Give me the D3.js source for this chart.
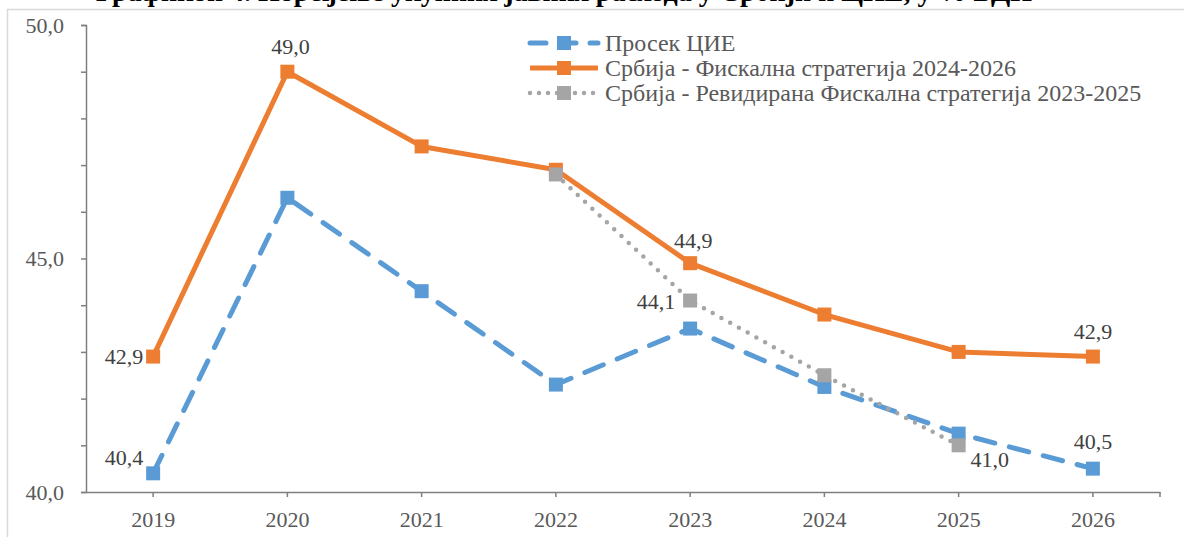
<!DOCTYPE html>
<html>
<head>
<meta charset="utf-8">
<script src="https://cdn.jsdelivr.net/npm/d3@7"></script>
<style>
  body { margin: 0; background: #fff; }
  svg { display: block; font-family: "Liberation Serif", "Times New Roman", serif; }
</style>
</head>
<body>
<svg id="chart" width="1184" height="537"></svg>
<script>
// Chart data
const years      = ['2019', '2020', '2021', '2022', '2023', '2024', '2025', '2026'];
const ceeAverage = [40.4, 46.3, 44.3, 42.3, 43.5, 42.25, 41.25, 40.5];
const fiscal2426 = [42.9, 49.0, 47.4, 46.9, 44.9, 43.8, 43.0, 42.9];
const revYears   = ['2022', '2023', '2024', '2025'];
const revised2325 = [46.8, 44.1, 42.5, 41.0];
const yTicks     = [40, 41, 42, 43, 44, 45, 46, 47, 48, 49, 50];

const titleText = 'Графикон 4. Поређење укупних јавних расхода у Србији и ЦИЕ, у % БДП';

// Series definitions (label, colour, line style)
const series = [
    {name: 'Просек ЦИЕ', x: years, v: ceeAverage, color: '#5b9bd5',
     width: 5, dash: '20 15', cap: 'round'},
    {name: 'Србија - Фискална стратегија 2024-2026', x: years, v: fiscal2426, color: '#ed7d31',
     width: 5, dash: null, cap: 'butt'},
    {name: 'Србија - Ревидирана Фискална стратегија 2023-2025', x: revYears, v: revised2325, color: '#a5a5a5',
     width: 4.5, dash: '0 10', cap: 'round'}
];

// Data labels: series index, year, offset from point and anchor
const dataLabels = [
    {s: 1, year: '2019', dx: -10, dy: 7,  anchor: 'end'},
    {s: 1, year: '2020', dx: 3,   dy: -18, anchor: 'middle'},
    {s: 1, year: '2023', dx: 3,   dy: -15, anchor: 'middle'},
    {s: 1, year: '2026', dx: 0,   dy: -18, anchor: 'middle'},
    {s: 0, year: '2019', dx: -10, dy: -8, anchor: 'end'},
    {s: 0, year: '2026', dx: 0,   dy: -20, anchor: 'middle'},
    {s: 2, year: '2023', dx: -15, dy: 8,  anchor: 'end'},
    {s: 2, year: '2025', dx: 31,  dy: 22, anchor: 'middle'}
];

const svg = d3.select('#chart');
const plot = {left: 86, right: 1160, top: 25, bottom: 492};

const fmt = d => d.toFixed(1).replace('.', ',');

// Scales
const xScale = d3.scaleBand().domain(years).range([plot.left, plot.right]);
const xc = d => xScale(d) + xScale.bandwidth() / 2;
const yScale = d3.scaleLinear().domain([40, 50]).range([plot.bottom, plot.top]);

// Outer frame
svg.append('rect')
   .attr('x', 7.5).attr('y', 9.5).attr('width', 1200).attr('height', 600)
   .attr('fill', 'none').attr('stroke', '#d9d9d9').attr('stroke-width', 1.5);

// Title (cut off by the top edge in the reference)
svg.append('text')
   .attr('x', 96).attr('y', 1)
   .attr('font-size', 28).attr('font-weight', 'bold').attr('fill', '#000')
   .text(titleText);

// Y axis
const yAxis = d3.axisLeft(yScale)
    .tickValues(yTicks)
    .tickSize(5).tickPadding(17)
    .tickFormat(d => d % 5 === 0 ? fmt(d) : '');
const gy = svg.append('g').attr('transform', `translate(${plot.left},0)`).call(yAxis);

// X axis
const xAxis = d3.axisBottom(xScale).tickSize(5).tickPadding(14).tickSizeOuter(0);
const gx = svg.append('g').attr('transform', `translate(0,${plot.bottom})`).call(xAxis);
gx.append('line')
  .attr('x1', plot.right).attr('x2', plot.right).attr('y1', 0).attr('y2', 5);

[gy, gx].forEach(g => {
    g.select('.domain').attr('stroke', '#7f7f7f').attr('stroke-width', 1.5);
    g.selectAll('line').attr('stroke', '#7f7f7f').attr('stroke-width', 1.5);
    g.selectAll('text').attr('font-family', 'Liberation Serif, serif')
                       .attr('font-size', 22).attr('fill', '#595959');
});

// Lines and markers
const line = d3.line().x(d => xc(d[0])).y(d => yScale(d[1]));

series.forEach(s => {
    const pts = s.x.map((yr, i) => [yr, s.v[i]]);
    svg.append('path')
       .datum(pts)
       .attr('d', line)
       .attr('fill', 'none')
       .attr('stroke', s.color)
       .attr('stroke-width', s.width)
       .attr('stroke-dasharray', s.dash)
       .attr('stroke-linecap', s.cap)
       .attr('stroke-linejoin', 'round');
    svg.append('g').selectAll('rect')
       .data(pts).enter()
       .append('rect')
       .attr('x', d => xc(d[0]) - 7)
       .attr('y', d => yScale(d[1]) - 7)
       .attr('width', 14).attr('height', 14)
       .attr('fill', s.color);
});

// Data labels
svg.append('g').selectAll('text')
   .data(dataLabels).enter()
   .append('text')
   .attr('x', d => xc(d.year) + d.dx)
   .attr('y', d => {
       const s = series[d.s];
       return yScale(s.v[s.x.indexOf(d.year)]) + d.dy;
   })
   .attr('text-anchor', d => d.anchor)
   .attr('font-size', 22).attr('fill', '#404040')
   .text(d => { const s = series[d.s]; return fmt(s.v[s.x.indexOf(d.year)]); });

// Legend
const legend = svg.append('g').attr('transform', 'translate(528,43)');
series.forEach((s, i) => {
    const row = legend.append('g').attr('transform', `translate(0,${i * 25})`);
    row.append('line')
       .attr('x1', 2).attr('x2', 70).attr('y1', 0).attr('y2', 0)
       .attr('stroke', s.color).attr('stroke-width', s.width)
       .attr('stroke-dasharray', s.dash ? (i === 0 ? '16 14' : '0 9') : null)
       .attr('stroke-linecap', s.cap);
    row.append('rect')
       .attr('x', 29).attr('y', -7).attr('width', 14).attr('height', 14)
       .attr('fill', s.color);
    row.append('text')
       .attr('x', 77).attr('y', 8)
       .attr('font-size', 24).attr('fill', '#595959')
       .text(s.name);
});
</script>
</body>
</html>
